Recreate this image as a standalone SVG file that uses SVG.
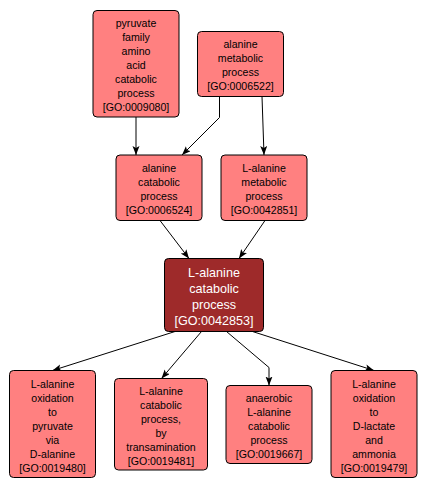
<svg xmlns="http://www.w3.org/2000/svg" width="428" height="490" viewBox="0 0 428 490">
<defs>
<style>
.box{fill:#ff8080;stroke:#000;stroke-width:1}
.main{fill:#9e2a2a;stroke:#000;stroke-width:1}
text{font-family:"Liberation Sans",Arial,sans-serif;font-size:10.6px;fill:#000;text-anchor:middle}
.w{fill:#fff;font-size:12.6px}
.edge{fill:none;stroke:#000;stroke-width:1;marker-end:url(#arr)}
</style>
<marker id="arr" markerUnits="userSpaceOnUse" markerWidth="10" markerHeight="8" refX="9" refY="3.5" orient="auto">
<path d="M0,0 L9,3.5 L0,7 L2,3.5 Z" fill="#000"/>
</marker>
</defs>
<rect width="428" height="490" fill="#fff"/>
<g id="edges">
<path class="edge" d="M136,117 L136,155"/>
<path class="edge" d="M219.5,96.5 L219.5,117.5 L182,155"/>
<path class="edge" d="M262,96.5 L264,155"/>
<path class="edge" d="M160,220.5 L189,258.5"/>
<path class="edge" d="M265,220.5 L239,258.5"/>
<path class="edge" d="M175,331.5 L52.5,370.5"/>
<path class="edge" d="M201.5,331.5 L161.5,378.5"/>
<path class="edge" d="M226.5,331.5 L269,367.5 L269,385.5"/>
<path class="edge" d="M252.5,331.5 L374,370.5"/>
</g>
<g id="GO0009080">
<rect class="box" x="93" y="10.5" width="86" height="106.5" rx="4"/>
<text x="136" y="27">pyruvate</text>
<text x="136" y="41">family</text>
<text x="136" y="55">amino</text>
<text x="136" y="69">acid</text>
<text x="136" y="83">catabolic</text>
<text x="136" y="97">process</text>
<text x="136" y="111">[GO:0009080]</text>
</g>
<g id="GO0006522">
<rect class="box" x="197.5" y="31.5" width="86" height="65" rx="4"/>
<text x="240.5" y="48">alanine</text>
<text x="240.5" y="62">metabolic</text>
<text x="240.5" y="76">process</text>
<text x="240.5" y="90">[GO:0006522]</text>
</g>
<g id="GO0006524">
<rect class="box" x="116" y="155" width="86" height="65.5" rx="4"/>
<text x="159" y="171.5">alanine</text>
<text x="159" y="185.5">catabolic</text>
<text x="159" y="199.5">process</text>
<text x="159" y="213.5">[GO:0006524]</text>
</g>
<g id="GO0042851">
<rect class="box" x="221" y="155" width="86" height="65.5" rx="4"/>
<text x="264" y="171.5">L-alanine</text>
<text x="264" y="185.5">metabolic</text>
<text x="264" y="199.5">process</text>
<text x="264" y="213.5">[GO:0042851]</text>
</g>
<g id="GO0042853">
<rect class="main" x="164.5" y="258.5" width="99" height="73" rx="4"/>
<text class="w" x="214" y="277">L-alanine</text>
<text class="w" x="214" y="293">catabolic</text>
<text class="w" x="214" y="309">process</text>
<text class="w" x="214" y="325">[GO:0042853]</text>
</g>
<g id="GO0019480">
<rect class="box" x="9.5" y="370.5" width="86" height="107" rx="4"/>
<text x="52.5" y="387.5">L-alanine</text>
<text x="52.5" y="401.5">oxidation</text>
<text x="52.5" y="415.5">to</text>
<text x="52.5" y="429.5">pyruvate</text>
<text x="52.5" y="443.5">via</text>
<text x="52.5" y="457.5">D-alanine</text>
<text x="52.5" y="471.5">[GO:0019480]</text>
</g>
<g id="GO0019481">
<rect class="box" x="114.5" y="378.5" width="93" height="91.5" rx="4"/>
<text x="161" y="395">L-alanine</text>
<text x="161" y="409">catabolic</text>
<text x="161" y="423">process,</text>
<text x="161" y="437">by</text>
<text x="161" y="451">transamination</text>
<text x="161" y="465">[GO:0019481]</text>
</g>
<g id="GO0019667">
<rect class="box" x="226" y="385.5" width="86" height="78" rx="4"/>
<text x="269" y="402">anaerobic</text>
<text x="269" y="416">L-alanine</text>
<text x="269" y="430">catabolic</text>
<text x="269" y="444">process</text>
<text x="269" y="458">[GO:0019667]</text>
</g>
<g id="GO0019479">
<rect class="box" x="331" y="370.5" width="86" height="107" rx="4"/>
<text x="374" y="387.5">L-alanine</text>
<text x="374" y="401.5">oxidation</text>
<text x="374" y="415.5">to</text>
<text x="374" y="429.5">D-lactate</text>
<text x="374" y="443.5">and</text>
<text x="374" y="457.5">ammonia</text>
<text x="374" y="471.5">[GO:0019479]</text>
</g>
</svg>
